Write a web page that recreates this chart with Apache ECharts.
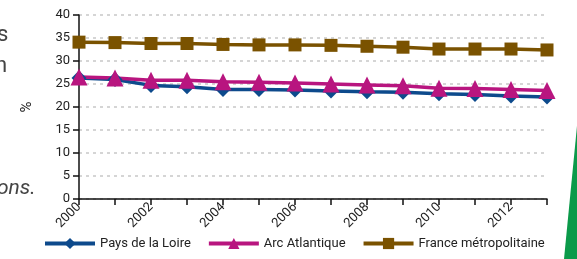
<!DOCTYPE html>
<html>
<head>
<meta charset="utf-8">
<script src="https://cdn.jsdelivr.net/npm/echarts@6/dist/echarts.min.js"></script>
<style>
  html, body { margin: 0; padding: 0; background: #fff; }
  #chart { width: 577px; height: 259px; }
</style>
</head>
<body>
<div id="chart"></div>
<script>
// années
const years = ['2000', '2001', '2002', '2003', '2004', '2005', '2006', '2007', '2008', '2009', '2010', '2011', '2012', '2013']

// valeurs en %
const paysDeLaLoire = [26.3, 26.0, 24.7, 24.4, 23.8, 23.8, 23.7, 23.5, 23.3, 23.2, 22.9, 22.7, 22.4, 22.2]
const arcAtlantique = [26.5, 26.3, 25.8, 25.8, 25.5, 25.4, 25.2, 25.0, 24.8, 24.6, 24.1, 24.0, 23.8, 23.6]
const franceMetro = [34.1, 34.0, 33.8, 33.8, 33.6, 33.5, 33.5, 33.4, 33.2, 33.0, 32.6, 32.6, 32.6, 32.4]

const yTicks = [0, 5, 10, 15, 20, 25, 30, 35, 40]

const chart = echarts.init(document.getElementById('chart'), null, { renderer: 'canvas' })

const font = 'Roboto'

const makeSeries = (name, data, color, symbol, size) => ({
  name: name,
  type: 'line',
  data: data,
  symbol: symbol,
  symbolSize: size,
  showSymbol: true,
  lineStyle: { color: color, width: 3.5 },
  itemStyle: { color: color },
  z: 3
})

const option = {
  animation: false,
  textStyle: { fontFamily: font },
  grid: { left: 79, right: 30, top: 15, bottom: 60 },
  legend: {
    bottom: 4,
    left: 38,
    itemWidth: 50,
    itemHeight: 14,
    itemGap: 16,
    lineStyle: { width: 4 },
    textStyle: { color: '#222', fontSize: 13, fontFamily: font },
    data: ['Pays de la Loire', 'Arc Atlantique', 'France métropolitaine']
  },
  xAxis: {
    type: 'category',
    data: years,
    boundaryGap: false,
    axisLine: { lineStyle: { color: '#111', width: 1.5 } },
    axisTick: { show: true, length: 6, interval: 0, lineStyle: { color: '#111', width: 1.5 } },
    axisLabel: {
      interval: 1,
      rotate: 45,
      color: '#222',
      fontSize: 13,
      margin: 6,
      fontFamily: font
    },
    splitLine: { show: false }
  },
  yAxis: {
    type: 'value',
    min: yTicks[0],
    max: yTicks[yTicks.length - 1],
    interval: 5,
    name: '%',
    nameLocation: 'middle',
    nameRotate: 90,
    nameGap: 44,
    nameTextStyle: { color: '#222', fontSize: 15, fontFamily: font },
    axisLine: { show: true, lineStyle: { color: '#111', width: 1.5 } },
    axisTick: { show: true, length: 6, lineStyle: { color: '#111', width: 1.5 } },
    axisLabel: { color: '#222', fontSize: 13, margin: 9, fontFamily: font },
    splitLine: { show: true, lineStyle: { color: '#c8c8c8', type: [3, 4], width: 1.5 } }
  },
  series: [
    makeSeries('Pays de la Loire', paysDeLaLoire, '#0d4a8c', 'diamond', 15),
    makeSeries('Arc Atlantique', arcAtlantique, '#b8157f', 'triangle', 17),
    makeSeries('France métropolitaine', franceMetro, '#7a5200', 'rect', 13)
  ],
  // fragments du texte voisin et bandeau vert
  graphic: [
    { type: 'text', left: -3, top: 24, style: { text: 's', fontSize: 22, fill: '#444', fontFamily: font } },
    { type: 'text', left: -5, top: 55, style: { text: 'n', fontSize: 22, fill: '#444', fontFamily: font } },
    { type: 'text', left: -8, top: 178, style: { text: 'ions.', fontSize: 21, fontStyle: 'italic', fill: '#444', fontFamily: font } },
    {
      type: 'polygon',
      shape: { points: [[577, 126], [577, 259], [564, 259]] },
      style: { fill: '#0b9a4a' }
    }
  ]
}

chart.setOption(option)
</script>
</body>
</html>
